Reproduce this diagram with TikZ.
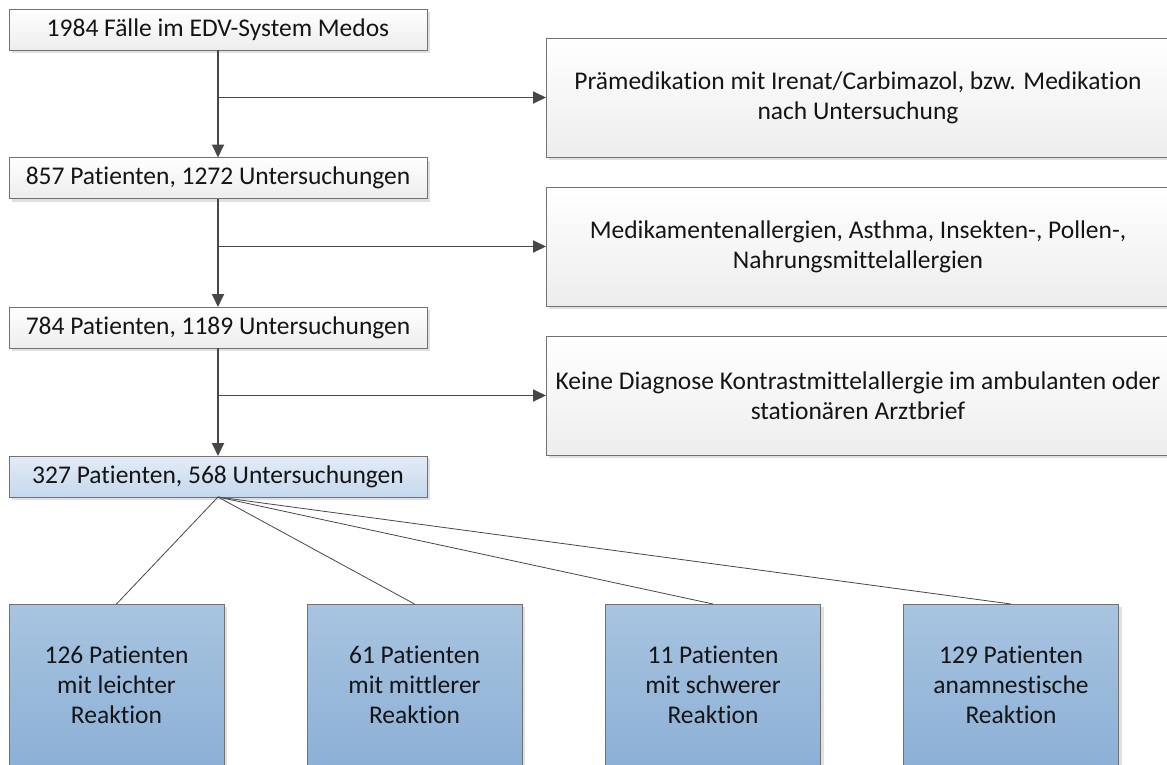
\documentclass[tikz,border=0pt]{standalone}
\usepackage{fontspec}
\setmainfont{Carlito}[Ligatures=NoCommon]
\usepackage{tikz}
\usetikzlibrary{arrows.meta,positioning,calc,shadows}
\definecolor{rim}{HTML}{727272}
\definecolor{ink}{HTML}{151515}
\definecolor{wire}{HTML}{474747}
\definecolor{greybot}{HTML}{EDEDED}
\definecolor{icetop}{HTML}{E3ECF6}
\definecolor{icebot}{HTML}{C4D8EC}
\definecolor{steeltop}{HTML}{A8C4E0}
\definecolor{steelbot}{HTML}{8CB0D6}
\tikzset{box/.style={draw=rim,line width=0.9pt,top color=white,bottom color=greybot,align=center,font=\fontsize{25.5}{30}\selectfont,text=ink,inner sep=0pt,outer sep=0pt,drop shadow={shadow xshift=3pt,shadow yshift=-3pt,fill=black!12,opacity=1}},flowbox/.style={box,minimum width=418,minimum height=41},notebox/.style={box,minimum width=624,minimum height=119},keybox/.style={flowbox,top color=icetop,bottom color=icebot},groupbox/.style={box,top color=steeltop,bottom color=steelbot,minimum width=215,minimum height=162},arr/.style={-{Triangle[length=13pt,width=12pt]},line width=1.8pt,draw=wire},spoke/.style={line width=0.8pt,draw=wire}}

\begin{document}
\begin{tikzpicture}[x=1pt,y=-1pt]
\useasboundingbox[fill=white] (0,0) rectangle (1167,764);
\node[flowbox] (cases) at (218,29.5) {1984 Fälle im EDV-System Medos};
\node[flowbox] (pat1) at (218,178) {857 Patienten, 1272 Untersuchungen};
\node[flowbox] (pat2) at (218,327.5) {784 Patienten, 1189 Untersuchungen};
\node[keybox] (pat3) at (218,476.5) {327 Patienten, 568 Untersuchungen};
\node[notebox] (ex1) at (858,97.5) {Prämedikation mit Irenat/Carbimazol, bzw. Medikation\\nach Untersuchung};
\node[notebox] (ex2) at (858,246.5) {Medikamentenallergien, Asthma, Insekten-, Pollen-,\\Nahrungsmittelallergien};
\node[notebox] (ex3) at (858,395.5) {Keine Diagnose Kontrastmittelallergie im ambulanten oder\\stationären Arztbrief};
\node[groupbox] (mild) at (116.5,685) {126 Patienten\\mit leichter\\Reaktion};
\node[groupbox] (mid) at (414.5,685) {61 Patienten\\mit mittlerer\\Reaktion};
\node[groupbox] (severe) at (713,685) {11 Patienten\\mit schwerer\\Reaktion};
\node[groupbox] (hist) at (1011,685) {129 Patienten\\anamnestische\\Reaktion};
\coordinate (j1) at (cases.south |- ex1.west);
\coordinate (j2) at (pat1.south |- ex2.west);
\coordinate (j3) at (pat2.south |- ex3.west);
\draw[arr] (cases) -- (pat1);
\draw[arr] (pat1) -- (pat2);
\draw[arr] (pat2) -- (pat3);
\draw[arr] (j1) -- (ex1.west);
\draw[arr] (j2) -- (ex2.west);
\draw[arr] (j3) -- (ex3.west);
\foreach \g in {mild,mid,severe,hist}
  \draw[spoke] (pat3.south) -- (\g.north);
\end{tikzpicture}
\end{document}
